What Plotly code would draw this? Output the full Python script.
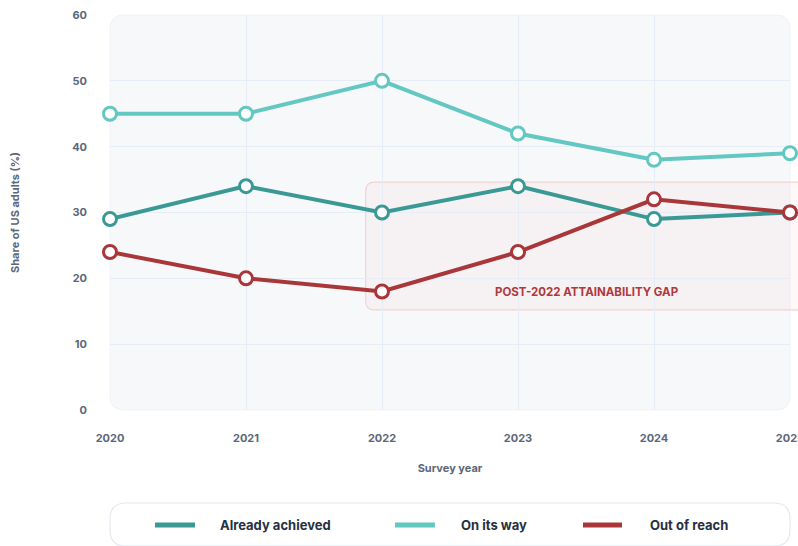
import plotly.graph_objects as go

# Survey results: share of US adults by outlook on a life goal
years = [2020, 2021, 2022, 2023, 2024, 2025]
already_achieved = [29, 34, 30, 34, 29, 30]
on_its_way = [45, 45, 50, 42, 38, 39]
out_of_reach = [24, 20, 18, 24, 32, 30]
y_ticks = [0, 10, 20, 30, 40, 50, 60]

series_names = ["Already achieved", "On its way", "Out of reach"]
series_colors = ["#3b9995", "#63c7c2", "#a9373a"]
series_values = [already_achieved, on_its_way, out_of_reach]

W, H = 798, 546
M = dict(l=110, r=8, t=15, b=136)
PW = W - M["l"] - M["r"]
PH = H - M["t"] - M["b"]
X_RANGE = [2020, 2025]
Y_RANGE = [0, 60]


def px_x(px):
    return (px - M["l"]) / PW


def px_y(py):
    return (H - M["b"] - py) / PH


def data_x(v):
    return (v - X_RANGE[0]) / (X_RANGE[1] - X_RANGE[0])


def data_y(v):
    return (v - Y_RANGE[0]) / (Y_RANGE[1] - Y_RANGE[0])


def rounded_rect(x0, y0, x1, y1, r_px):
    """Rounded rectangle path in paper coordinates; corner radius in pixels."""
    rx, ry = r_px / PW, r_px / PH
    return (
        f"M{x0 + rx},{y0} L{x1 - rx},{y0} Q{x1},{y0} {x1},{y0 + ry} "
        f"L{x1},{y1 - ry} Q{x1},{y1} {x1 - rx},{y1} "
        f"L{x0 + rx},{y1} Q{x0},{y1} {x0},{y1 - ry} "
        f"L{x0},{y0 + ry} Q{x0},{y0} {x0 + rx},{y0} Z"
    )


fig = go.Figure()

# draw order: light teal first, red last so it sits on top
for idx in [1, 0, 2]:
    fig.add_trace(go.Scatter(
        x=years, y=series_values[idx], name=series_names[idx],
        mode="lines+markers",
        line=dict(color=series_colors[idx], width=4),
        marker=dict(size=13, color="white", line=dict(color=series_colors[idx], width=3)),
        cliponaxis=False, showlegend=False,
    ))

shapes = []
# rounded plot background
shapes.append(dict(type="path", xref="paper", yref="paper",
                   path=rounded_rect(0, 0, 1, 1, 14),
                   fillcolor="#f7f8fa", line=dict(color="#eef2f7", width=1), layer="below"))

# highlighted region after 2022
gap_x0, gap_x1, gap_y0, gap_y1 = 2021.88, 2025.3, 15.2, 34.6
shapes.append(dict(type="path", xref="paper", yref="paper",
                   path=rounded_rect(data_x(gap_x0), data_y(gap_y0), data_x(gap_x1), data_y(gap_y1), 9),
                   fillcolor="rgba(236,160,160,0.07)", line=dict(color="#f1d3d3", width=1.2), layer="between"))

# legend panel
shapes.append(dict(type="path", xref="paper", yref="paper",
                   path=rounded_rect(px_x(110), px_y(546), px_x(790), px_y(503), 16),
                   fillcolor="white", line=dict(color="#e4e9f0", width=1.2), layer="below"))

annotations = [
    dict(x=2023.5, y=18, xref="x", yref="y", text="<b>POST-2022 ATTAINABILITY GAP</b>",
         showarrow=False, font=dict(family="Inter", size=11.5, color="#b0393b")),
]

# legend entries
legend_line_x = [(155, 195), (395, 435), (583, 622)]
legend_text_x = [218, 459, 648]
legend_y = px_y(525)
for name, color, (lx0, lx1), tx in zip(series_names, series_colors, legend_line_x, legend_text_x):
    shapes.append(dict(type="line", xref="paper", yref="paper",
                       x0=px_x(lx0), x1=px_x(lx1), y0=legend_y, y1=legend_y,
                       line=dict(color=color, width=5)))
    annotations.append(dict(x=px_x(tx), y=legend_y, xref="paper", yref="paper",
                            xanchor="left", yanchor="middle", showarrow=False,
                            text=f"<b>{name}</b>",
                            font=dict(family="Inter", size=13, color="#263043")))

fig.update_layout(
    width=W, height=H, margin=M,
    paper_bgcolor="white", plot_bgcolor="rgba(0,0,0,0)",
    shapes=shapes, annotations=annotations,
    font=dict(family="Inter", color="#5c677a"),
    xaxis=dict(
        range=X_RANGE, tickvals=years, ticktext=[str(y) for y in years],
        showgrid=True, gridcolor="#e7edf6", gridwidth=1, zeroline=False, showline=False,
        ticks="", ticklabelstandoff=20, ticklabeloverflow="allow", automargin=False,
        tickfont=dict(family="Inter", size=11, color="#5c677a", weight="bold"),
        title=dict(text="<b>Survey year</b>", standoff=20,
                   font=dict(family="Inter", size=11, color="#5c677a")),
    ),
    yaxis=dict(
        range=Y_RANGE, tickvals=y_ticks, automargin=False,
        showgrid=True, gridcolor="#e7edf6", gridwidth=1, zeroline=False, showline=False,
        ticks="", ticklabelstandoff=22,
        tickfont=dict(family="Inter", size=11, color="#5c677a", weight="bold"),
        title=dict(text="<b>Share of US adults (%)</b>", standoff=50,
                   font=dict(family="Inter", size=11, color="#5c677a")),
    ),
)

fig.write_html("out.html")
